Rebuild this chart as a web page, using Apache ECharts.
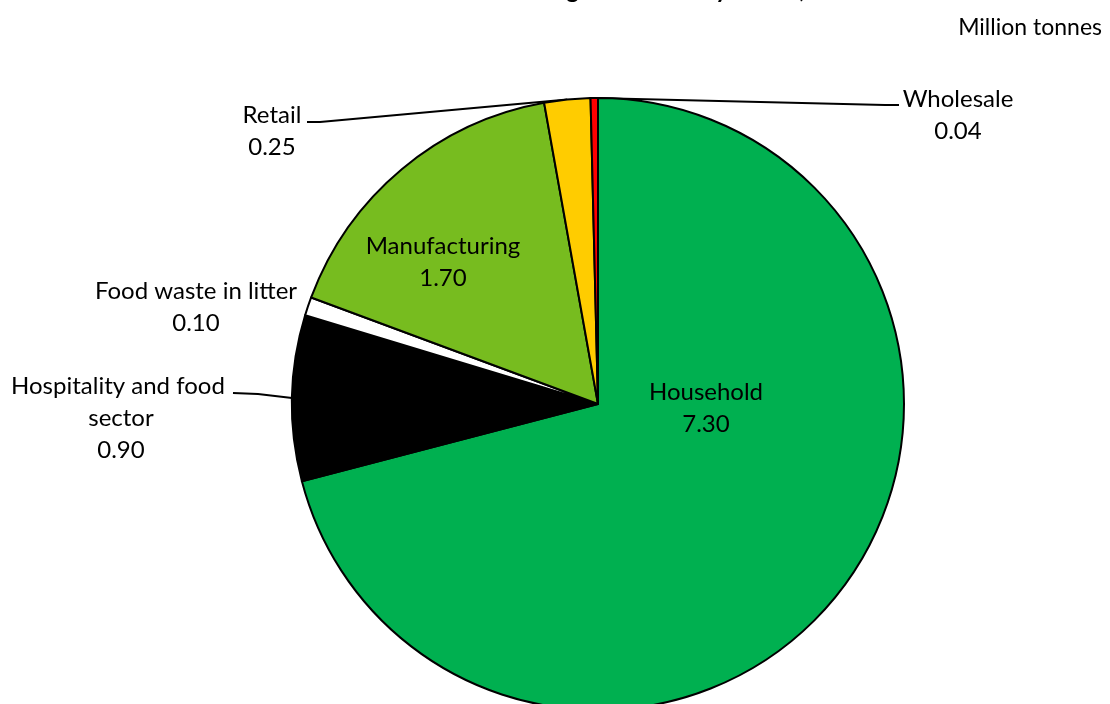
<!DOCTYPE html>
<html>
<head>
<meta charset="utf-8">
<script src="https://cdn.jsdelivr.net/npm/echarts@6/dist/echarts.min.js"></script>
<style>
  html, body { margin: 0; padding: 0; background: #fff; }
  #main { width: 1110px; height: 704px; }
</style>
</head>
<body>
<div id="main"></div>
<script>
// sectors, clockwise from 12 o'clock
var sectors = ['Household', 'Hospitality and food sector', 'Food waste in litter', 'Manufacturing', 'Retail', 'Wholesale'];
var tonnes = [7.30, 0.90, 0.10, 1.70, 0.25, 0.04];
var sliceColors = ['#00b050', '#000000', '#ffffff', '#77bc1f', '#ffcc00', '#ff0000'];

// where each label sits (px), and where its leader line meets the text
var labelSpots = [
  { x: 706, y: 408 },
  { x: 121, y: 418, line: [[258, 394], [233, 393]] },
  { x: 196, y: 307 },
  { x: 443, y: 262 },
  { x: 272, y: 131, line: [[320, 122], [307, 122]] },
  { x: 958, y: 115, line: [[885, 105], [899, 105]] }
];

var FONT = 'Lato';
var dom = document.getElementById('main');
var myChart = echarts.init(dom);

var pieData = sectors.map(function (name, i) {
  var item = {
    name: name,
    value: tonnes[i],
    itemStyle: { color: sliceColors[i] }
  };
  if (i == 1) {
    item.label = { width: 230, overflow: 'break' };
  }
  if (i == 0 || i == 3) {
    item.label = { position: 'inside' };
    item.labelLine = { show: false };
  }
  if (i == 2) {
    item.labelLine = { show: false };
  }
  return item;
});

var option = {
  backgroundColor: '#ffffff',
  animation: false,
  title: [{
    // only the very bottom of the title shows at the top edge
    text: 'Food waste arisings in the UK by sector, 2015',
    left: 375,
    top: -27,
    textStyle: { fontFamily: FONT, fontWeight: 'bold', fontSize: 24, color: '#000' }
  }, {
    text: 'Million tonnes',
    right: 3,
    top: 11,
    textStyle: { fontFamily: FONT, fontWeight: 'normal', fontSize: 23, color: '#000' }
  }],
  series: [{
    type: 'pie',
    center: [598, 404],
    radius: 306,
    startAngle: 90,
    clockwise: true,
    avoidLabelOverlap: false,
    itemStyle: { borderColor: '#000', borderWidth: 2 },
    emphasis: { disabled: true },
    label: {
      show: true,
      position: 'outside',
      fontFamily: FONT,
      fontSize: 24,
      color: '#000',
      lineHeight: 32,
      align: 'center',
      formatter: function (p) {
        return p.name + '\n' + p.value.toFixed(2);
      }
    },
    labelLine: {
      show: true,
      length: 10,
      length2: 10,
      lineStyle: { color: '#000', width: 2 }
    },
    labelLayout: function (params) {
      var spot = labelSpots[params.dataIndex];
      var res = { x: spot.x, y: spot.y, align: 'center', verticalAlign: 'middle' };
      if (spot.line && params.labelLinePoints) {
        res.labelLinePoints = [params.labelLinePoints[0], spot.line[0], spot.line[1]];
      }
      return res;
    },
    data: pieData
  }]
};

myChart.setOption(option);
</script>
</body>
</html>
